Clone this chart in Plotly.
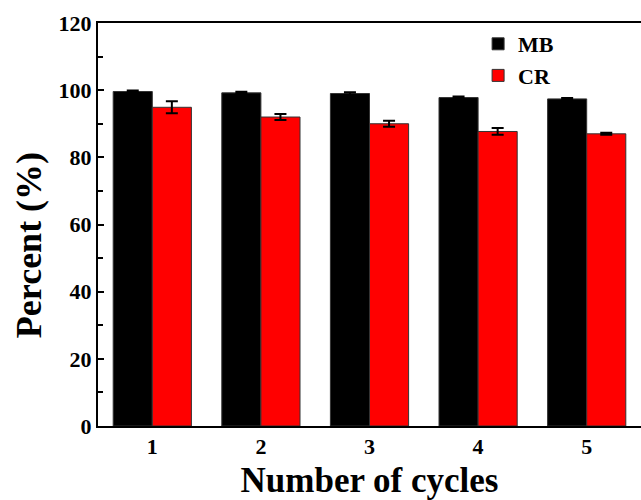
import plotly.graph_objects as go

cycles = [1, 2, 3, 4, 5]
mb_values = [99.6, 99.2, 99.0, 97.8, 97.4]
mb_errors = [0.3, 0.3, 0.4, 0.3, 0.3]
cr_values = [94.9, 92.0, 90.0, 87.7, 87.0]
cr_errors = [1.8, 0.9, 0.9, 1.0, 0.3]
y_ticks = [0, 20, 40, 60, 80, 100, 120]
y_minor = [10, 30, 50, 70, 90, 110]

font_family = "Liberation Serif"

fig = go.Figure()
fig.add_trace(go.Bar(
    x=cycles, y=mb_values, name="<b>MB</b>",
    marker=dict(color="#000000", line=dict(color="#333333", width=1)),
    error_y=dict(type="data", array=mb_errors, color="#000000", thickness=2, width=6),
))
fig.add_trace(go.Bar(
    x=cycles, y=cr_values, name="<b>CR</b>",
    marker=dict(color="#ff0000", line=dict(color="#333333", width=1)),
    error_y=dict(type="data", array=cr_errors, color="#000000", thickness=2, width=6),
))

fig.update_layout(
    width=641, height=500,
    margin=dict(l=98, r=0, t=23, b=74, autoexpand=False),
    paper_bgcolor="white", plot_bgcolor="white",
    barmode="group", bargap=0.28, bargroupgap=0,
    font=dict(family=font_family, color="black"),
    showlegend=True,
    legend=dict(x=0.70, y=1.0, xanchor="left", yanchor="top",
                font=dict(size=22, family=font_family, color="black"),
                bgcolor="rgba(0,0,0,0)", tracegroupgap=0, itemwidth=30),
    xaxis=dict(
        range=[0.5, 5.5], tickvals=cycles, ticktext=["<b>%d</b>" % c for c in cycles],
        showline=True, linecolor="black", linewidth=2, mirror=True,
        ticks="", showgrid=False, zeroline=False, automargin=False,
        tickfont=dict(size=22, family=font_family, color="black"),
        title=dict(text="<b>Number of cycles</b>", font=dict(size=35, family=font_family, color="black"), standoff=10),
    ),
    yaxis=dict(
        range=[0, 120], tickvals=y_ticks,
        ticktext=["<b>%d</b>" % v for v in y_ticks],
        showline=True, linecolor="black", linewidth=2, mirror=True,
        ticks="inside", ticklen=6, tickwidth=2, tickcolor="black",
        minor=dict(tickvals=y_minor, ticks="inside", ticklen=5, tickwidth=2, tickcolor="black"),
        showgrid=False, zeroline=False, automargin=False,
        tickfont=dict(size=22, family=font_family, color="black"),
    ),
    annotations=[dict(
        text="<b>Percent (%)</b>", textangle=-90, showarrow=False,
        xref="paper", yref="paper", x=-0.128, y=0.45,
        xanchor="center", yanchor="middle",
        font=dict(size=36, family=font_family, color="black"),
    )],
)

fig.write_html(
    "out.html",
    config={"displayModeBar": False},
    post_script="document.body.style.margin='0';document.body.style.overflow='hidden';",
)
